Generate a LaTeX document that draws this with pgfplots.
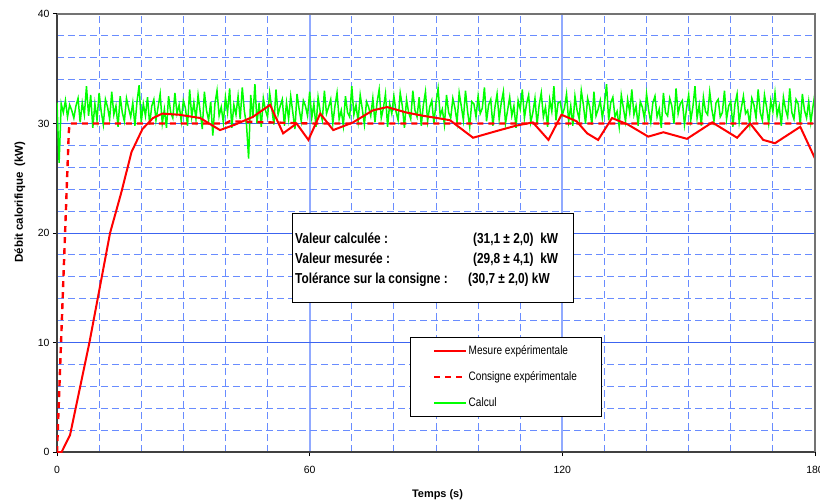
\documentclass[border=0pt]{standalone}
\usepackage{fontspec}
\setmainfont{Liberation Sans}
\newfontfamily\condfont[FakeStretch=0.82]{Liberation Sans}
\usepackage{pgfplots}
\pgfplotsset{compat=1.18}
\definecolor{gridmaj}{RGB}{60,100,240}
\definecolor{gridvmaj}{RGB}{145,170,255}
\definecolor{gridmin}{RGB}{105,140,255}
\definecolor{calcgreen}{RGB}{0,255,0}
\definecolor{rouge}{RGB}{255,0,0}
\begin{document}
\begin{tikzpicture}
\begin{axis}[
  at={(0,0)}, anchor=south west,
  scale only axis, width=758bp, height=438bp,
  xmin=0, xmax=180, ymin=0, ymax=40,
  xtick={0,60,120,180}, ytick={0,10,20,30,40},
  minor x tick num=5, minor y tick num=4,
  grid=both,
  major x grid style={gridvmaj, line width=2.2pt},
  major y grid style={gridmaj, line width=0.8pt},
  minor grid style={gridmin, line width=0.9pt, dash pattern=on 7bp off 4bp},
  axis x line*=bottom, axis y line*=left,
  axis line style={-, black!75, line width=1.2pt},
  tick align=outside, major tick length=4bp, minor tick length=0pt,
  tick style={black, line width=1pt},
  /pgf/number format/assume math mode=true,
  ticklabel style={font=\fontsize{10.5}{12}\selectfont},
  xticklabel style={yshift=-7bp},
  xlabel={Temps (s)},
  xlabel style={font=\bfseries\fontsize{11}{12}\selectfont, at={(axis description cs:0.502,-0.098)}, anchor=center},
  ylabel={Débit calorifique\ \ (kW)},
  ylabel style={font=\bfseries\fontsize{11.5}{12}\selectfont, at={(axis description cs:-0.049,0.571)}, anchor=center},
  legend image code/.code={\draw[#1] (0bp,0bp) -- (32bp,0bp);},
  legend cell align=left,
  legend style={at={(axis cs:83.8,10.5)}, anchor=north west, draw=black, line width=0.8pt, fill=white,
    font=\condfont\fontsize{12.3}{14}\selectfont, inner xsep=23bp, inner ysep=7.5bp, row sep=13.5bp,
    nodes={inner sep=1bp}},
]
\addplot[calcgreen, line width=1.5bp, forget plot] coordinates {
(0,31.9)(0.5,26.4)(1,31.8)(1.5,31.0)(2,32.1)(2.5,30.6)(3,31.7)(3.5,31.2)(4,30.5)(4.5,31.6)
(5,32.3)(5.5,30.1)(6,31.9)(6.5,30.8)(7,33.4)(7.5,30.7)(8,32.6)(8.5,29.6)(9,31.8)(9.5,30.3)
(10,32.8)(10.5,31.1)(11,29.9)(11.5,32.2)(12,31.5)(12.5,30.4)(13,32.9)(13.5,30.8)(14,31.6)(14.5,29.7)
(15,32.5)(15.5,31.0)(16,30.2)(16.5,32.3)(17,31.4)(17.5,30.6)(18,31.9)(18.5,29.8)(19,32.0)(19.5,33.5)
(20,30.1)(20.5,31.8)(21,30.7)(21.5,32.4)(22,29.9)(22.5,31.6)(23,32.2)(23.5,30.3)(24,31.5)(24.5,32.7)
(25,30.0)(25.5,31.3)(26,29.6)(26.5,32.5)(27,31.0)(27.5,30.5)(28,32.8)(28.5,30.9)(29,31.7)(29.5,30.2)
(30,32.1)(30.5,31.4)(31,29.8)(31.5,33.1)(32,30.6)(32.5,31.9)(33,30.4)(33.5,32.6)(34,31.1)(34.5,29.5)
(35,32.9)(35.5,31.2)(36,30.3)(36.5,32.0)(37,28.9)(37.5,31.8)(38,33.0)(38.5,30.7)(39,31.5)(39.5,30.1)
(40,32.4)(40.5,31.0)(41,33.2)(41.5,29.6)(42,31.7)(42.5,30.8)(43,32.5)(43.5,30.4)(44,33.3)(44.5,31.1)
(45,29.9)(45.5,26.8)(46,32.6)(46.5,30.5)(47,33.6)(47.5,30.0)(48,31.9)(48.5,29.7)(49,32.3)(49.5,31.2)
(50,30.6)(50.5,32.8)(51,31.4)(51.5,29.9)(52,33.1)(52.5,30.8)(53,31.6)(53.5,32.2)(54,29.8)(54.5,31.9)
(55,30.4)(55.5,32.5)(56,31.0)(56.5,29.5)(57,32.7)(57.5,31.3)(58,30.2)(58.5,32.1)(59,31.6)(59.5,30.7)
(60,32.9)(60.5,30.5)(61,31.8)(61.5,29.7)(62,32.4)(62.5,31.1)(63,30.3)(63.5,33.0)(64,30.9)(64.5,31.5)
(65,32.2)(65.5,30.0)(66,31.6)(66.5,32.8)(67,30.4)(67.5,31.2)(68,29.8)(68.5,32.5)(69,31.0)(69.5,30.6)
(70,33.4)(70.5,30.8)(71,31.7)(71.5,30.2)(72,32.6)(72.5,31.3)(73,29.9)(73.5,32.0)(74,31.5)(74.5,30.7)
(75,32.3)(75.5,30.1)(76,31.9)(76.5,33.1)(77,30.5)(77.5,31.4)(78,32.7)(78.5,29.7)(79,31.8)(79.5,30.9)
(80,32.5)(80.5,31.1)(81,30.3)(81.5,32.8)(82,31.6)(82.5,29.6)(83,32.2)(83.5,31.0)(84,30.4)(84.5,33.0)
(85,31.2)(85.5,30.6)(86,32.4)(86.5,29.8)(87,31.7)(87.5,32.9)(88,30.2)(88.5,31.5)(89,32.1)(89.5,30.0)
(90,31.9)(90.5,33.2)(91,30.7)(91.5,31.3)(92,29.9)(92.5,32.6)(93,31.0)(93.5,30.5)(94,32.3)(94.5,31.4)
(95,30.1)(95.5,32.8)(96,31.6)(96.5,30.3)(97,33.0)(97.5,31.1)(98,29.7)(98.5,32.0)(99,31.8)(99.5,30.6)
(100,32.5)(100.5,30.9)(101,31.4)(101.5,33.3)(102,30.2)(102.5,31.7)(103,32.2)(103.5,29.8)(104,31.5)(104.5,32.7)
(105,30.4)(105.5,31.9)(106,32.9)(106.5,30.0)(107,31.2)(107.5,32.4)(108,30.7)(108.5,31.6)(109,29.6)(109.5,32.1)
(110,31.3)(110.5,33.1)(111,30.5)(111.5,31.8)(112,32.6)(112.5,30.1)(113,31.0)(113.5,32.3)(114,29.9)(114.5,31.7)
(115,32.8)(115.5,30.6)(116,31.5)(116.5,29.7)(117,32.2)(117.5,31.1)(118,33.4)(118.5,30.3)(119,31.9)(119.5,32.0)
(120,30.8)(120.5,31.4)(121,32.7)(121.5,30.2)(122,31.6)(122.5,29.8)(123,32.5)(123.5,31.2)(124,30.4)(124.5,33.0)
(125,31.7)(125.5,30.0)(126,32.3)(126.5,31.5)(127,29.9)(127.5,32.9)(128,30.7)(128.5,31.3)(129,32.1)(129.5,30.5)
(130,31.8)(130.5,33.6)(131,30.3)(131.5,31.9)(132,32.4)(132.5,30.6)(133,31.1)(133.5,29.7)(134,32.6)(134.5,31.4)
(135,30.2)(135.5,32.2)(136,31.0)(136.5,33.1)(137,30.8)(137.5,31.6)(138,29.8)(138.5,32.0)(139,31.5)(139.5,30.4)
(140,32.7)(140.5,31.2)(141,30.1)(141.5,31.9)(142,32.5)(142.5,30.6)(143,31.3)(143.5,29.6)(144,32.8)(144.5,31.0)
(145,30.7)(145.5,32.3)(146,31.6)(146.5,30.0)(147,33.2)(147.5,30.9)(148,31.8)(148.5,32.1)(149,29.9)(149.5,31.4)
(150,32.6)(150.5,30.3)(151,31.5)(151.5,33.4)(152,30.5)(152.5,31.7)(153,29.8)(153.5,32.4)(154,31.1)(154.5,30.8)
(155,32.9)(155.5,31.3)(156,30.2)(156.5,31.9)(157,32.2)(157.5,30.6)(158,31.0)(158.5,33.0)(159,30.4)(159.5,31.6)
(160,32.0)(160.5,29.7)(161,31.8)(161.5,32.7)(162,30.1)(162.5,31.4)(163,32.5)(163.5,30.9)(164,31.2)(164.5,29.9)
(165,32.3)(165.5,31.7)(166,30.5)(166.5,33.1)(167,31.0)(167.5,30.3)(168,32.6)(168.5,31.5)(169,30.0)(169.5,32.1)
(170,31.1)(170.5,32.8)(171,30.7)(171.5,31.6)(172,29.8)(172.5,32.4)(173,31.3)(173.5,30.6)(174,33.2)(174.5,31.0)
(175,30.4)(175.5,32.2)(176,31.8)(176.5,29.9)(177,32.7)(177.5,31.2)(178,30.5)(178.5,32.0)(179,30.1)(179.5,31.5)
(180,32.8)
};
\addplot[rouge, line width=2bp] coordinates {
(0,0)(1.1,0)(3.1,1.55)(7.7,10)(12.6,20)(15.2,23.6)(17.7,27.4)(20.3,29.5)(22.8,30.5)(25,30.9)(29,30.8)
(34,30.5)(38.7,29.4)(42.3,29.9)(46.5,30.6)(50.6,31.7)(53.7,29.1)(56.9,30.0)(59.7,28.5)(62.5,30.9)
(65.6,29.4)(70.3,30.1)(75,31.2)(78.4,31.5)(83,31.0)(87,30.7)(90.3,30.5)(93.3,30.3)(98.8,28.7)
(105.2,29.4)(109,29.8)(113,30.1)(116.7,28.5)(119.8,30.8)(123.4,30.2)(125.9,29.1)(128.5,28.5)
(131.8,30.5)(135.6,29.9)(140.4,28.8)(144,29.2)(149.6,28.6)(155.6,30.1)(161.5,28.7)(164.6,30.0)
(167.7,28.5)(170.5,28.2)(176.5,29.7)(180,26.8)
};
\addlegendentry{Mesure expérimentale}
\addplot[rouge, line width=2.4bp, dash pattern=on 6bp off 5bp] coordinates {
(0,0)(2.8,29.2)(3,30)(40,30)(41,30.2)(60,30)(180,30)
};
\addlegendentry{Consigne expérimentale}
\addlegendimage{draw=calcgreen, color=calcgreen, line width=2bp, solid}
\addlegendentry{Calcul}
\end{axis}
\draw[black!55, line width=1.4pt] (0,438bp) -- (758bp,438bp) -- (758bp,0);
\draw[black, line width=0.8pt, fill=white] (235bp,150bp) rectangle (516bp,239bp);
\begin{scope}[every node/.style={font=\condfont\bfseries\fontsize{14.5}{16}\selectfont, inner sep=0pt, anchor=base west}]
\node at (238bp,208bp) {Valeur calculée :};
\node at (238bp,188bp) {Valeur mesurée :};
\node at (238bp,168bp) {Tolérance sur la consigne :};
\node at (416bp,208bp) {(31,1 ± 2,0)\ \ kW};
\node at (416bp,188bp) {(29,8 ± 4,1)\ \ kW};
\node at (411bp,168bp) {(30,7 ± 2,0) kW};
\end{scope}
\pgfresetboundingbox
\path[use as bounding box] (-57bp,-50bp) rectangle (763bp,452bp);
\end{tikzpicture}
\end{document}
